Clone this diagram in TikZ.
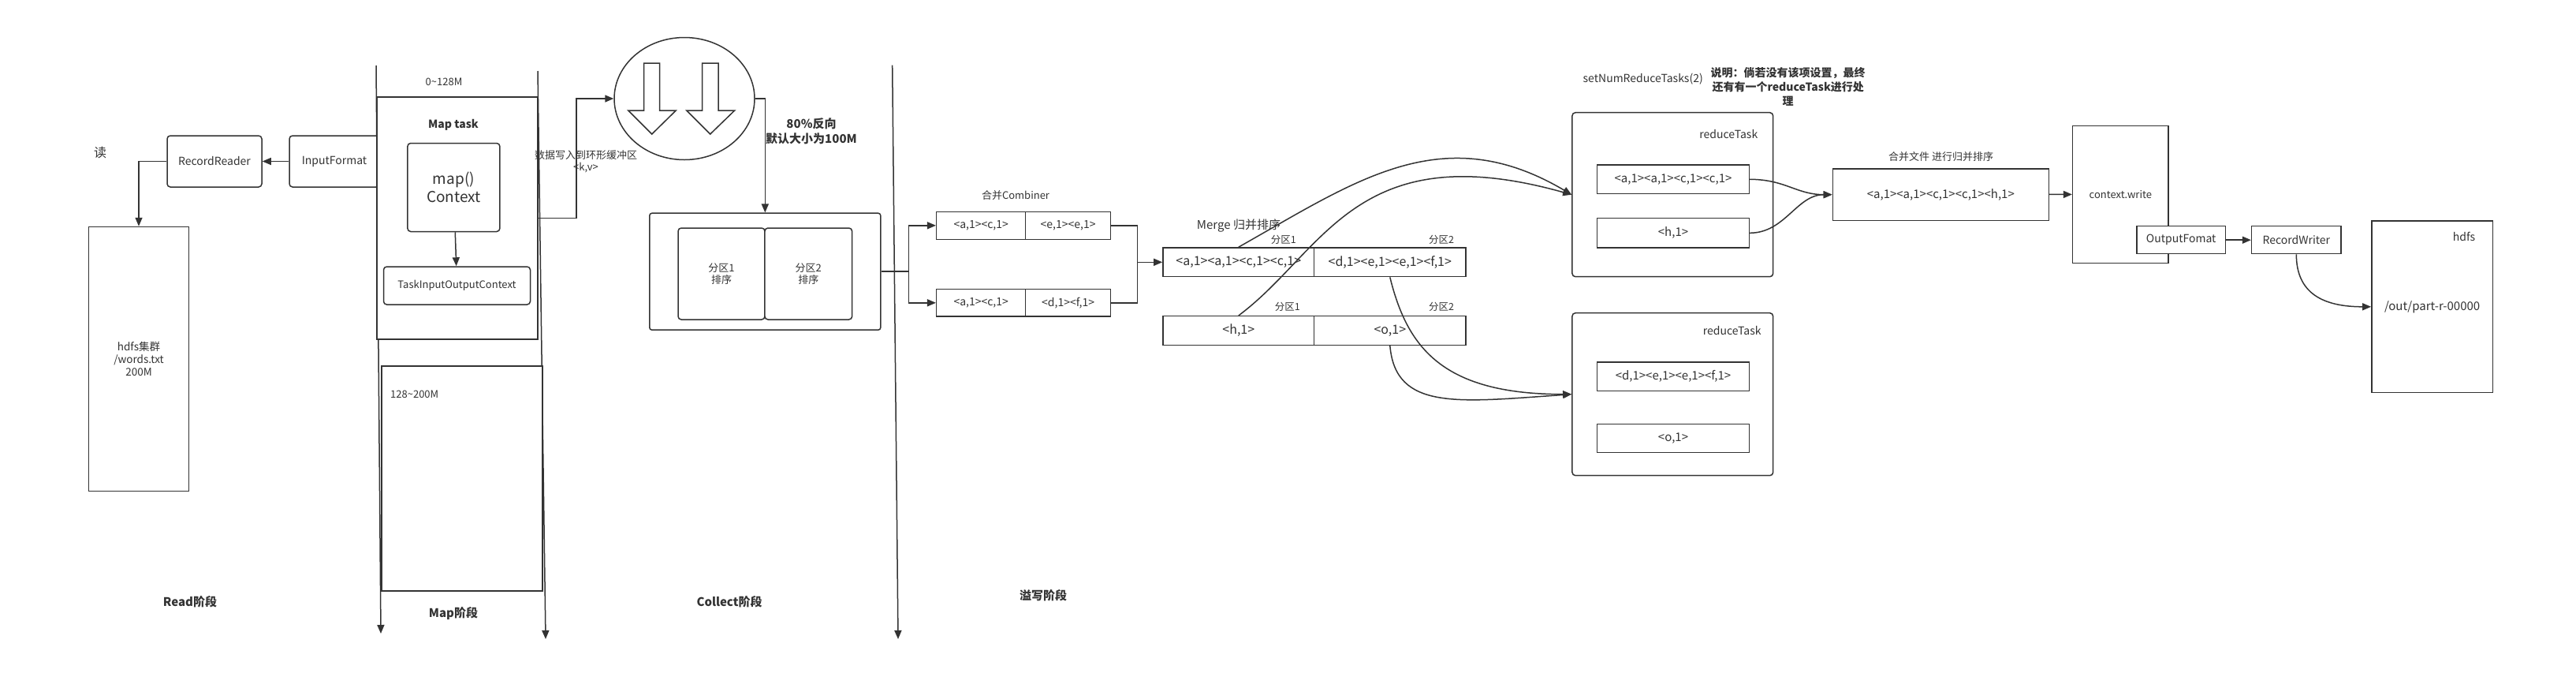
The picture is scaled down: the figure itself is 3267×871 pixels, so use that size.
\documentclass[tikz,border=0pt]{standalone}
\usepackage{fontspec}
\setmainfont{Noto Sans CJK SC}
\usepackage{tikz}
\usetikzlibrary{arrows.meta,shapes.geometric}
\definecolor{darkline}{RGB}{51,51,51}
\definecolor{darktext}{RGB}{51,51,51}

\begin{document}
\begin{tikzpicture}[x=1pt, y=-1pt,
    box/.style={draw=darkline, line width=1.5pt, rounded corners=4pt, fill=white,
                inner sep=0pt, text=darktext, align=center,
                font=\fontsize{14pt}{16pt}\selectfont},
    rect/.style={box, sharp corners},
    lbl/.style={inner sep=0pt, text=darktext, align=center,
                font=\fontsize{13pt}{15pt}\selectfont},
    blbl/.style={lbl, font=\bfseries\fontsize{15pt}{19pt}\selectfont},
    arrow/.style={-{Triangle[length=11pt,width=9pt]}, line width=1.5pt, color=darkline},
    line/.style={line width=1.5pt, color=darkline}
]
\useasboundingbox (0,0) rectangle (3267,871);

% phase separators
\draw[arrow] (477,83) -- (483,803);
\draw[arrow] (682,90) -- (692,810);
\draw[arrow] (1131.7,82.7) -- (1139,810);

% read
\node[lbl, font=\fontsize{16pt}{18pt}\selectfont] (DU) at (127,193) {读};
\node[box, minimum width=120pt, minimum height=65pt] (RR) at (272,204.5) {RecordReader};
\node[box, minimum width=114pt, minimum height=65pt] (IF) at (424,204.5) {InputFormat};
\node[rect, minimum width=127pt, minimum height=335pt, font=\fontsize{13.5pt}{16pt}\selectfont] (H1) at (176,455) {hdfs集群\\/words.txt\\200M};
\draw[arrow] (IF) -- (RR);
\draw[arrow] (RR.west) -| (H1.north);

% map
\node[rect, minimum width=204pt, minimum height=307pt] (MT) at (580,276.7) {};
\node[blbl, font=\bfseries\fontsize{14pt}{16pt}\selectfont] (MTL) at (575,158) {Map task};
\node[box, minimum width=117pt, minimum height=112pt, font=\fontsize{19pt}{23pt}\selectfont] (MP) at (575.4,237.5) {map()\\Context};
\node[box, minimum width=186pt, minimum height=48pt, font=\fontsize{13pt}{15pt}\selectfont] (TC) at (579.5,362) {TaskInputOutputContext};
\node[rect, minimum width=204pt, minimum height=285pt] (MB) at (586,606.7) {};
\node[lbl] (S1) at (563,104) {0\textasciitilde 128M};
\node[lbl, anchor=west] (S2) at (495,500) {128\textasciitilde 200M};
\draw[arrow] (MP) -- (TC);

% ring buffer
\node[draw=darkline, line width=1.5pt, ellipse, minimum width=178pt, minimum height=155pt, inner sep=0pt] (RB) at (868,125) {};
\draw[line] (816.7,80) -- (836.7,80) -- (836.7,140) -- (857.3,140) -- (826.7,170) -- (796.7,140) -- (816.7,140) -- cycle;
\draw[line] (890.7,80) -- (911,80) -- (911,140) -- (931.7,140) -- (900.7,170) -- (870.7,140) -- (890.7,140) -- cycle;
\node[lbl] (BL) at (743,205) {数据写入到环形缓冲区\\<k,v>};
\node[blbl] (PL) at (1029,166) {80\%反向\\默认大小为100M};
\draw[arrow] (MT.east) -- ++(48,0) |- (RB.west);

% collect
\node[box, rounded corners=3pt, minimum width=293pt, minimum height=148pt] (CB) at (970.3,344.2) {};
\node[box, minimum width=110pt, minimum height=116pt, font=\fontsize{13pt}{15pt}\selectfont] (P1) at (915,347) {分区1\\排序};
\node[box, minimum width=110.7pt, minimum height=116pt, font=\fontsize{13pt}{15pt}\selectfont] (P2) at (1025.3,347) {分区2\\排序};
\draw[arrow] (RB.east) -| (CB.north);

% combiner
\node[lbl] (CL) at (1288,247.7) {合并Combiner};
\node[rect, minimum width=113pt, minimum height=35pt, font=\fontsize{14pt}{16pt}\selectfont] (C1) at (1244.2,285.8) {<a,1><c,1>};
\node[rect, minimum width=108pt, minimum height=35pt, font=\fontsize{14pt}{16pt}\selectfont] (C2) at (1354.6,285.8) {<e,1><e,1>};
\node[rect, minimum width=113pt, minimum height=34.3pt, font=\fontsize{14pt}{16pt}\selectfont] (C3) at (1244.2,383.8) {<a,1><c,1>};
\node[rect, minimum width=108pt, minimum height=34.3pt, font=\fontsize{14pt}{16pt}\selectfont] (C4) at (1354.6,383.8) {<d,1><f,1>};
\draw[line] (CB.east) -- ++(35,0) coordinate (S);
\draw[arrow] (S) |- (C1.west);
\draw[arrow] (S) |- (C3.west);

% merge
\node[lbl, font=\fontsize{15pt}{17pt}\selectfont] (ML) at (1571,286) {Merge 归并排序};
\node[rect, minimum width=191.7pt, minimum height=36.7pt, font=\fontsize{16pt}{18pt}\selectfont] (M1) at (1570.8,332.3) {<a,1><a,1><c,1><c,1>};
\node[rect, minimum width=192.3pt, minimum height=36.7pt, font=\fontsize{16pt}{18pt}\selectfont] (M2) at (1762.8,332.3) {<d,1><e,1><e,1><f,1>};
\node[rect, minimum width=191.7pt, minimum height=36.6pt, font=\fontsize{16pt}{18pt}\selectfont] (M3) at (1570.8,419) {<h,1>};
\node[rect, minimum width=192.3pt, minimum height=36.6pt, font=\fontsize{16pt}{18pt}\selectfont] (M4) at (1762.8,419) {<o,1>};
\node[lbl, font=\fontsize{12.5pt}{14pt}\selectfont] (Q1) at (1627.7,304.3) {分区1};
\node[lbl, font=\fontsize{12.5pt}{14pt}\selectfont] (Q2) at (1828,304.3) {分区2};
\node[lbl, font=\fontsize{12.5pt}{14pt}\selectfont] (Q3) at (1632.7,389.3) {分区1};
\node[lbl, font=\fontsize{12.5pt}{14pt}\selectfont] (Q4) at (1828,389.3) {分区2};
\draw[line] (C2.east) -- ++(33,0) coordinate (J) |- (C4.east);
\draw[arrow] (J |- M1.west) -- (M1.west);

% reduce
\node[lbl, font=\fontsize{14pt}{16pt}\selectfont] (NR) at (2083.7,100) {setNumReduceTasks(2)};
\node[blbl, font=\bfseries\fontsize{14pt}{17.7pt}\selectfont] (NT) at (2267.7,110) {说明：倘若没有该项设置，最终\\还有有一个reduceTask进行处\\理};
\node[box, minimum width=254.7pt, minimum height=208pt] (R1) at (2121.3,246.7) {};
\node[box, minimum width=254.7pt, minimum height=206pt] (R2) at (2121.3,499.7) {};
\node[lbl, font=\fontsize{14pt}{16pt}\selectfont] (RL1) at (2192.3,170) {reduceTask};
\node[lbl, font=\fontsize{14pt}{16pt}\selectfont] (RL2) at (2196.7,419.3) {reduceTask};
\node[rect, minimum width=192.6pt, minimum height=36.7pt, font=\fontsize{15pt}{17pt}\selectfont] (R1a) at (2122,227.3) {<a,1><a,1><c,1><c,1>};
\node[rect, minimum width=192.6pt, minimum height=37.3pt, font=\fontsize{15pt}{17pt}\selectfont] (R1b) at (2122,295.3) {<h,1>};
\node[rect, minimum width=192.6pt, minimum height=36.7pt, font=\fontsize{15pt}{17pt}\selectfont] (R2a) at (2122,477.3) {<d,1><e,1><e,1><f,1>};
\node[rect, minimum width=192.6pt, minimum height=36pt, font=\fontsize{15pt}{17pt}\selectfont] (R2b) at (2122,555.3) {<o,1>};
\draw[arrow] (M1.north) .. controls +(149,-84) and +(-164,-97) .. (R1.west);
\draw[arrow] (M3.north) .. controls +(109,-81) and +(-274,-77) .. (R1.west);
\draw[arrow] (M2.south) .. controls +(22,89) and +(-164,0) .. (R2.west);
\draw[arrow] (M4.south) .. controls +(7,83) and +(-144,10) .. (R2.west);

% output
\node[lbl] (FL) at (2461.6,198.3) {合并文件 进行归并排序};
\node[rect, minimum width=274pt, minimum height=65.3pt, font=\fontsize{15pt}{17pt}\selectfont] (FM) at (2461.3,246.7) {<a,1><a,1><c,1><c,1><h,1>};
\node[rect, minimum width=121.3pt, minimum height=174pt, font=\fontsize{13pt}{15pt}\selectfont] (CW) at (2689.3,246.3) {context.write};
\node[rect, minimum width=112.5pt, minimum height=35pt] (OF) at (2766.2,304.2) {OutputFomat};
\node[rect, minimum width=113.4pt, minimum height=35pt] (RW) at (2912.3,304.2) {RecordWriter};
\node[rect, minimum width=153.5pt, minimum height=217.7pt, font=\fontsize{15pt}{17pt}\selectfont] (H2) at (3084.6,388.8) {/out/part-r-00000};
\node[lbl, font=\fontsize{14pt}{16pt}\selectfont] (HL) at (3125,300) {hdfs};
\draw[arrow] (R1a.east) .. controls +(45,0) and +(-45,0) .. (FM.west);
\draw[arrow] (R1b.east) .. controls +(45,0) and +(-45,0) .. (FM.west);
\draw[arrow] (FM) -- (CW);
\draw[arrow] (OF) -- (RW);
\draw[arrow] (RW.south) .. controls +(0,50) and +(-60,0) .. (H2.west);

% phase labels
\node[blbl] (PR) at (241,763) {Read阶段};
\node[blbl] (PM) at (575,778) {Map阶段};
\node[blbl] (PC) at (925,763) {Collect阶段};
\node[blbl] (PS) at (1323,755) {溢写阶段};
\end{tikzpicture}
\end{document}
